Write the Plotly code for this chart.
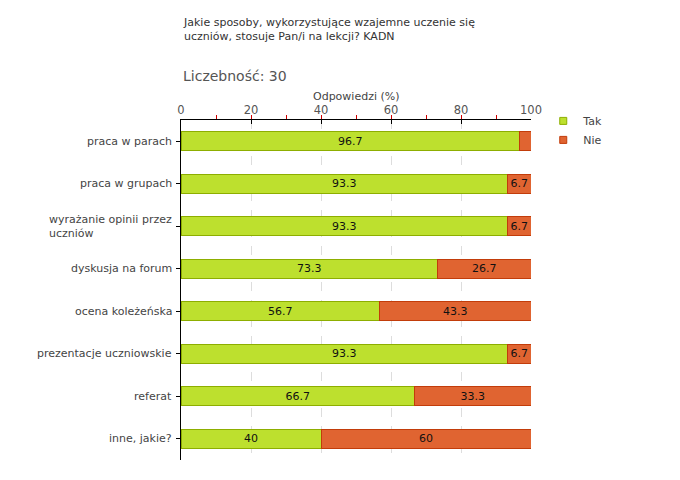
import plotly.graph_objects as go

categories = ["praca w parach", "praca w grupach", "wyrażanie opinii przez<br>uczniów",
              "dyskusja na forum", "ocena koleżeńska", "prezentacje uczniowskie",
              "referat", "inne, jakie?"]
tak = [96.7, 93.3, 93.3, 73.3, 56.7, 93.3, 66.7, 40]
nie = [3.3, 6.7, 6.7, 26.7, 43.3, 6.7, 33.3, 60]
tak_labels = ["96.7", "93.3", "93.3", "73.3", "56.7", "93.3", "66.7", "40"]
nie_labels = ["", "6.7", "6.7", "26.7", "43.3", "6.7", "33.3", "60"]
x_ticks = [0, 20, 40, 60, 80, 100]

FONT = "DejaVu Sans"
GREEN, GREEN_LINE = "#BDE02E", "#8DAE00"
ORANGE, ORANGE_LINE = "#E06431", "#C23C0A"

fig = go.Figure()
fig.add_trace(go.Bar(
    y=categories, x=tak, name="Tak", orientation="h", showlegend=False,
    marker=dict(color=GREEN, line=dict(color=GREEN_LINE, width=1)),
    text=tak_labels, textposition="inside", insidetextanchor="middle",
    textfont=dict(color="#111111", size=11, family=FONT), hoverinfo="x",
))
fig.add_trace(go.Bar(
    y=categories, x=nie, name="Nie", orientation="h", showlegend=False,
    marker=dict(color=ORANGE, line=dict(color=ORANGE_LINE, width=1)),
    text=nie_labels, textposition="inside", insidetextanchor="middle",
    textfont=dict(color="#111111", size=11, family=FONT), hoverinfo="x",
))
# legend-only entries with small square symbols
for name, col, lcol in [("Tak", GREEN, GREEN_LINE), ("Nie", ORANGE, ORANGE_LINE)]:
    fig.add_trace(go.Scatter(
        x=[None], y=[None], mode="markers", name=name,
        marker=dict(symbol="square", size=7, color=col, line=dict(color=lcol, width=1)),
    ))

annotations = []
for c in categories:
    annotations.append(dict(
        x=0, xref="paper", y=c, yref="y", text=c, showarrow=False,
        xanchor="right", xshift=-7, align="left",
        font=dict(family=FONT, size=11, color="#444444"),
    ))
annotations.append(dict(
    x=0, xref="paper", y=1, yref="paper", yshift=106, xanchor="left", yanchor="top",
    text="Jakie sposoby, wykorzystujące wzajemne uczenie się<br>uczniów, stosuje Pan/i na lekcji? KADN",
    showarrow=False, align="left", font=dict(family=FONT, size=11, color="#333333"),
))
annotations.append(dict(
    x=0, xref="paper", y=1, yref="paper", yshift=54, xanchor="left", yanchor="top",
    text="Liczebność: 30", showarrow=False, align="left",
    font=dict(family=FONT, size=14, color="#555555"),
))
annotations.append(dict(
    x=0.5, xref="paper", y=1, yref="paper", yshift=24, xanchor="center", yanchor="middle",
    text="Odpowiedzi (%)", showarrow=False,
    font=dict(family=FONT, size=11, color="#444444"),
))

fig.update_layout(
    width=680, height=480,
    barmode="stack", bargap=0.55,
    plot_bgcolor="white", paper_bgcolor="white",
    margin=dict(l=173, r=157, t=112, b=28, autoexpand=False),
    font=dict(family=FONT, size=11, color="#444444"),
    legend=dict(x=1.035, y=1.04, xanchor="left", yanchor="top", traceorder="normal",
                font=dict(family=FONT, size=11, color="#444444"),
                itemwidth=30, tracegroupgap=0, bgcolor="rgba(0,0,0,0)"),
    annotations=annotations,
    showlegend=True,
)
fig.update_xaxes(
    side="top", range=[0, 100], tickvals=x_ticks,
    showgrid=True, gridcolor="#DDDDDD", griddash="dash", gridwidth=1,
    showline=True, linecolor="black", linewidth=1,
    ticks="inside", ticklen=4, tickcolor="black",
    minor=dict(dtick=10, tick0=0, ticks="outside", ticklen=4, tickcolor="#D00000", showgrid=False),
    tickfont=dict(family=FONT, size=11.5, color="#555555"),
    zeroline=False, fixedrange=True, automargin=False,
)
fig.update_yaxes(
    autorange="reversed", showticklabels=False,
    showline=True, linecolor="black", linewidth=1,
    ticks="outside", ticklen=4, tickcolor="black",
    showgrid=False, fixedrange=True, automargin=False,
)

fig.write_html("out.html")
